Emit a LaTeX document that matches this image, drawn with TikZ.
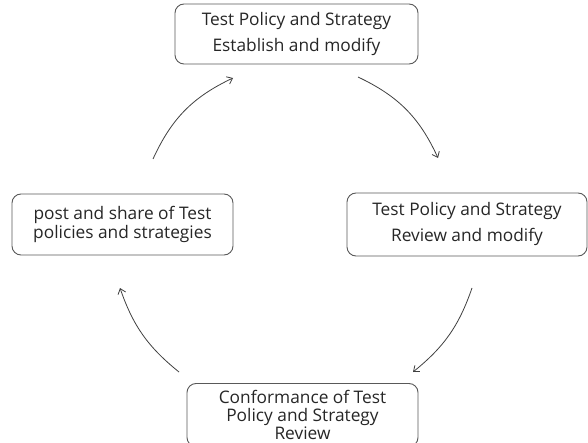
\documentclass[tikz,border=0pt]{standalone}
\usepackage{fontspec}
\setmainfont{Open Sans}
\usetikzlibrary{arrows.meta}
\begin{document}
\begin{tikzpicture}[x=1pt,y=-1pt,
  box/.style={draw=black!65, line width=0.9pt, rounded corners=9pt, inner sep=0pt,
    align=center, text=black!85, font=\fontsize{17.3}{19.5}\selectfont},
  arr/.style={draw=black!75, line width=0.8pt, -{Straight Barb[length=5pt,width=8pt]}}]
\useasboundingbox (0,0) rectangle (588,443);
\node[box, minimum width=243, minimum height=60] (top) at (296.5,34)
  {Test Policy and Strategy\\[6.5pt]Establish and modify};
\node[box, minimum width=240, minimum height=63] (right) at (467,224.5)
  {Test Policy and Strategy\\[6.5pt]Review and modify};
\node[box, minimum width=221, minimum height=61] (left) at (122.5,224.5)
  {post and share of Test\\policies and strategies};
\node[box, minimum width=231, minimum height=63, font=\fontsize{17.3}{18}\selectfont] (bottom) at (302.5,415)
  {Conformance of Test\\Policy and Strategy\\Review};
\coordinate (a1s) at (153,159); \coordinate (a1e) at (233,78);
\coordinate (a2s) at (358,77);  \coordinate (a2e) at (438,158);
\coordinate (a3s) at (472,288); \coordinate (a3e) at (413,372);
\coordinate (a4s) at (179,372); \coordinate (a4e) at (120,288);
\draw[arr] (a1s) to[bend left=20] (a1e);
\draw[arr] (a2s) to[bend left=20] (a2e);
\draw[arr] (a3s) to[bend left=16] (a3e);
\draw[arr] (a4s) to[bend left=16] (a4e);
\end{tikzpicture}
\end{document}
